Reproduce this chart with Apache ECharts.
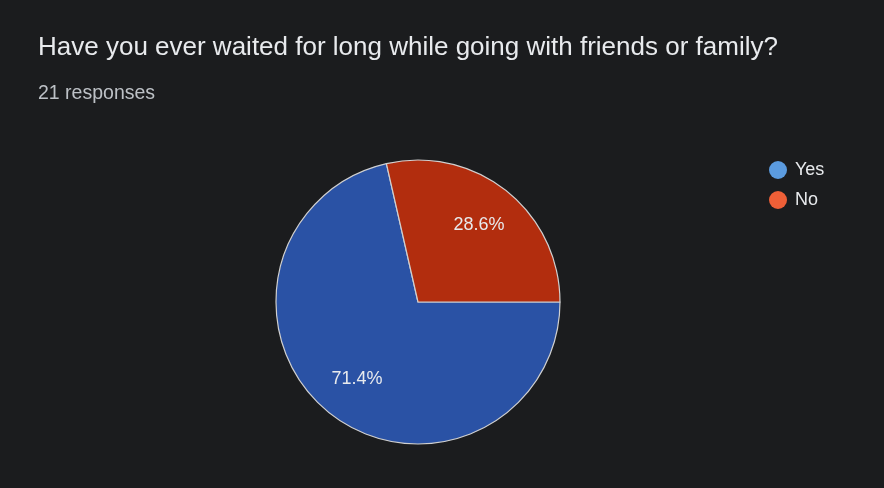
<!DOCTYPE html>
<html>
<head>
<meta charset="utf-8">
<script src="https://cdn.jsdelivr.net/npm/echarts@6/dist/echarts.min.js"></script>
<style>
  html, body { margin: 0; padding: 0; background: #1b1c1e; }
  #chart { width: 884px; height: 488px; }
</style>
</head>
<body>
<div id="chart"></div>
<script>
var categories = ['Yes', 'No'];
var responses = [15, 6];
var sliceColors = ['#2a52a5', '#b22d0e'];
var legendColors = ['#5b9bdf', '#ee5f37'];

var chartDom = document.getElementById('chart');
var myChart = echarts.init(chartDom);

var font = 'Liberation Sans, Arial, sans-serif';

var pieData = categories.map(function (name, i) {
  return { name: name, value: responses[i], itemStyle: { color: sliceColors[i] } };
});

var option = {
  backgroundColor: '#1b1c1e',
  title: [
    {
      text: 'Have you ever waited for long while going with friends or family?',
      left: 33,
      top: 30,
      textStyle: { color: '#e8eaed', fontSize: 26, fontWeight: 'normal', fontFamily: font }
    },
    {
      text: '21 responses',
      left: 33,
      top: 79,
      textStyle: { color: '#bdc1c6', fontSize: 19.5, fontWeight: 'normal', fontFamily: font }
    }
  ],
  legend: {
    orient: 'vertical',
    left: 764,
    top: 156,
    icon: 'circle',
    itemWidth: 18,
    itemHeight: 18,
    itemGap: 12,
    itemStyle: { borderWidth: 0 },
    textStyle: { color: '#e8eaed', fontSize: 18, fontFamily: font, padding: [0, 0, 0, 3] },
    selectedMode: false,
    data: categories.map(function (name, i) {
      return { name: name, itemStyle: { color: legendColors[i], borderWidth: 0 } };
    })
  },
  series: [
    {
      type: 'pie',
      center: [418, 302],
      radius: [0, 142],
      startAngle: 0,
      clockwise: true,
      silent: true,
      label: { show: false },
      labelLine: { show: false },
      itemStyle: { borderColor: '#d0d0d0', borderWidth: 1.2 },
      data: pieData
    },
    {
      // transparent ring that only carries the labels, at ~0.67 of the radius
      type: 'pie',
      center: [418, 302],
      radius: [93, 97],
      startAngle: 0,
      clockwise: true,
      silent: true,
      legendHoverLink: false,
      itemStyle: { color: 'transparent', borderWidth: 0 },
      label: {
        show: true,
        position: 'inside',
        formatter: function (p) { return p.percent.toFixed(1) + '%'; },
        color: '#e8eaed',
        fontSize: 18,
        fontFamily: font
      },
      labelLine: { show: false },
      data: categories.map(function (name, i) {
        return { name: name, value: responses[i] };
      })
    }
  ]
};

option && myChart.setOption(option);
window.addEventListener('resize', function () {
  myChart.resize();
});
</script>
</body>
</html>
